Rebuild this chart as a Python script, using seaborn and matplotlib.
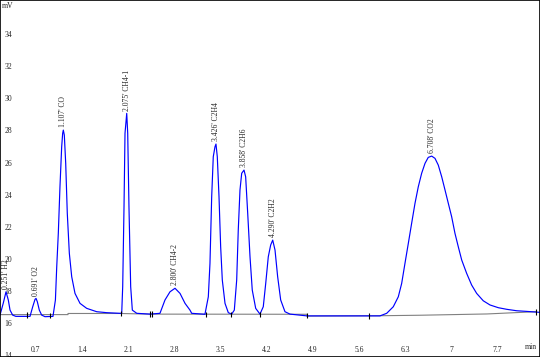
"""
Chromatogram trace redrawn from a TCD detector screenshot.
"""

import matplotlib
matplotlib.use('Agg')
import matplotlib.pyplot as plt
import seaborn as sns

# signal trace (min, mV)
trace_t = [0.160, 0.210, 0.251, 0.286, 0.312, 0.352, 0.400, 0.615, 0.656, 0.691,
           0.706, 0.726, 0.756, 0.792, 0.842, 0.963,
           1.000, 1.020, 1.044, 1.069, 1.095, 1.110, 1.120, 1.135, 1.156, 1.180,
           1.211, 1.247, 1.297, 1.373, 1.474, 1.626, 1.778, 1.979,
           2.005, 2.020, 2.040, 2.055, 2.081, 2.096, 2.115, 2.141, 2.166, 2.233,
           2.434, 2.585, 2.661, 2.737, 2.813, 2.889, 2.965, 3.040, 3.066, 3.267,
           3.318, 3.343, 3.369, 3.393, 3.419, 3.434, 3.454, 3.480, 3.505, 3.530,
           3.571, 3.621, 3.672, 3.712, 3.748, 3.772, 3.798, 3.824, 3.859, 3.884,
           3.915, 3.950, 3.984, 4.036, 4.101, 4.151, 4.188, 4.227, 4.263, 4.294,
           4.329, 4.369, 4.415, 4.480, 4.556, 4.814, 5.920,
           6.022, 6.122, 6.198, 6.249, 6.299, 6.350, 6.400, 6.451, 6.501, 6.552,
           6.603, 6.652, 6.704, 6.754, 6.804, 6.856, 6.906, 6.956, 7.007, 7.057,
           7.107, 7.159, 7.234, 7.310, 7.386, 7.486, 7.588, 7.714, 7.841, 7.992,
           8.144, 8.346]
trace_mv = [16.50, 17.25, 17.95, 17.44, 16.81, 16.50, 16.42, 16.42, 17.02, 17.48,
            17.54, 17.33, 16.81, 16.50, 16.40, 16.42,
            17.44, 19.51, 21.59, 24.49, 26.98, 27.82, 28.02, 27.71, 25.95, 22.84,
            20.35, 18.89, 17.85, 17.23, 16.92, 16.71, 16.65, 16.61,
            16.61, 18.27, 23.25, 27.82, 29.06, 27.82, 23.25, 18.27, 16.81, 16.61,
            16.56, 16.61, 17.44, 17.95, 18.17, 17.85, 17.23, 16.81, 16.61, 16.55,
            17.64, 19.72, 23.87, 26.36, 26.98, 27.15, 26.36, 23.87, 20.76, 18.68,
            17.23, 16.65, 16.56, 16.81, 18.68, 21.80, 24.29, 25.33, 25.53, 25.11,
            22.84, 20.13, 18.06, 16.92, 16.56, 17.02, 18.47, 20.13, 20.86, 21.17,
            20.55, 18.89, 17.44, 16.71, 16.56, 16.45, 16.45,
            16.61, 17.02, 17.64, 18.47, 19.72, 20.97, 22.21, 23.46, 24.49, 25.33,
            25.95, 26.32, 26.40, 26.26, 25.84, 25.11, 24.29, 23.46, 22.62, 21.59,
            20.76, 19.93, 19.10, 18.37, 17.85, 17.39, 17.13, 16.96, 16.86, 16.77,
            16.73, 16.67]

# integration baseline (grey)
base_t = [0.160, 1.191, 1.191, 1.979, 2.434, 4.814, 4.814, 5.920, 6.520, 7.030, 7.540, 8.285]
base_mv = [16.53, 16.53, 16.60, 16.60, 16.56, 16.55, 16.44, 16.46, 16.49, 16.53, 16.57, 16.71]

# peak start / end markers
mark_t = [0.565, 0.918, 1.994, 2.434, 2.457, 3.290, 3.659, 4.106, 4.814, 5.753, 8.280]
mark_mv = [16.50, 16.46, 16.60, 16.56, 16.56, 16.55, 16.55, 16.55, 16.48, 16.45, 16.70]

# peak labels
peak_names = ["0.251' H2", "0.691' O2", "1.107' CO", "2.075' CH4-1", "2.800' CH4-2",
              "3.426' C2H4", "3.858' C2H6", "4.290' C2H2", "6.708' CO2"]
peak_t = [0.251, 0.706, 1.120, 2.081, 2.813, 3.434, 3.859, 4.294, 6.704]
peak_mv = [17.95, 17.54, 28.02, 29.06, 18.17, 27.15, 25.53, 21.17, 26.40]

y_ticks = [14, 16, 18, 20, 22, 24, 26, 28, 30, 32, 34]
x_ticks = [0.7, 1.4, 2.1, 2.8, 3.5, 4.2, 4.9, 5.6, 6.3, 7, 7.7]
x_labels = ['0.7', '1.4', '2.1', '2.8', '3.5', '4.2', '4.9', '5.6', '6.3', '7', '7.7']

sns.set_style('white')
plt.rcParams['font.family'] = ['Liberation Serif', 'DejaVu Serif']

fig = plt.figure(figsize=(5.4, 3.57), dpi=100)
ax = fig.add_axes([0, 0, 1, 1])

sns.lineplot(x=base_t, y=base_mv, sort=False, estimator=None, color='#808080',
             linewidth=0.8, ax=ax)
sns.lineplot(x=trace_t, y=trace_mv, sort=False, estimator=None, color='#0000ff',
             linewidth=0.85, ax=ax)
ax.vlines(mark_t, [v - 0.17 for v in mark_mv], [v + 0.17 for v in mark_mv],
          color='black', linewidth=0.8)

for name, t, v in zip(peak_names, peak_t, peak_mv):
    ax.annotate(name, xy=(t, v), xytext=(0, 2), textcoords='offset points',
                rotation=90, ha='center', va='bottom', fontsize=5.5)

ax.set_xlim(0.160, 8.346)
ax.set_ylim(13.89, 36.12)
ax.set_yticks(y_ticks)
ax.set_xticks(x_ticks)
ax.set_xticklabels(x_labels)
ax.tick_params(axis='y', direction='in', length=2.2, width=0.7, pad=-3, labelsize=5.5)
ax.tick_params(axis='x', direction='in', length=3, width=0.7, pad=-8, labelsize=5.5)
for lab in ax.get_yticklabels():
    lab.set_horizontalalignment('left')
ax.set_xlabel('')
ax.set_ylabel('')

ax.text(0.004, 0.983, 'mV', transform=ax.transAxes, fontsize=5.5, va='center', ha='left')
ax.text(0.983, 0.029, 'min', transform=ax.transAxes, fontsize=5.5, va='center', ha='center')

for s in ax.spines.values():
    s.set_color('black')
    s.set_linewidth(1.2)

fig.savefig('out.png', dpi=100)
plt.close(fig)
